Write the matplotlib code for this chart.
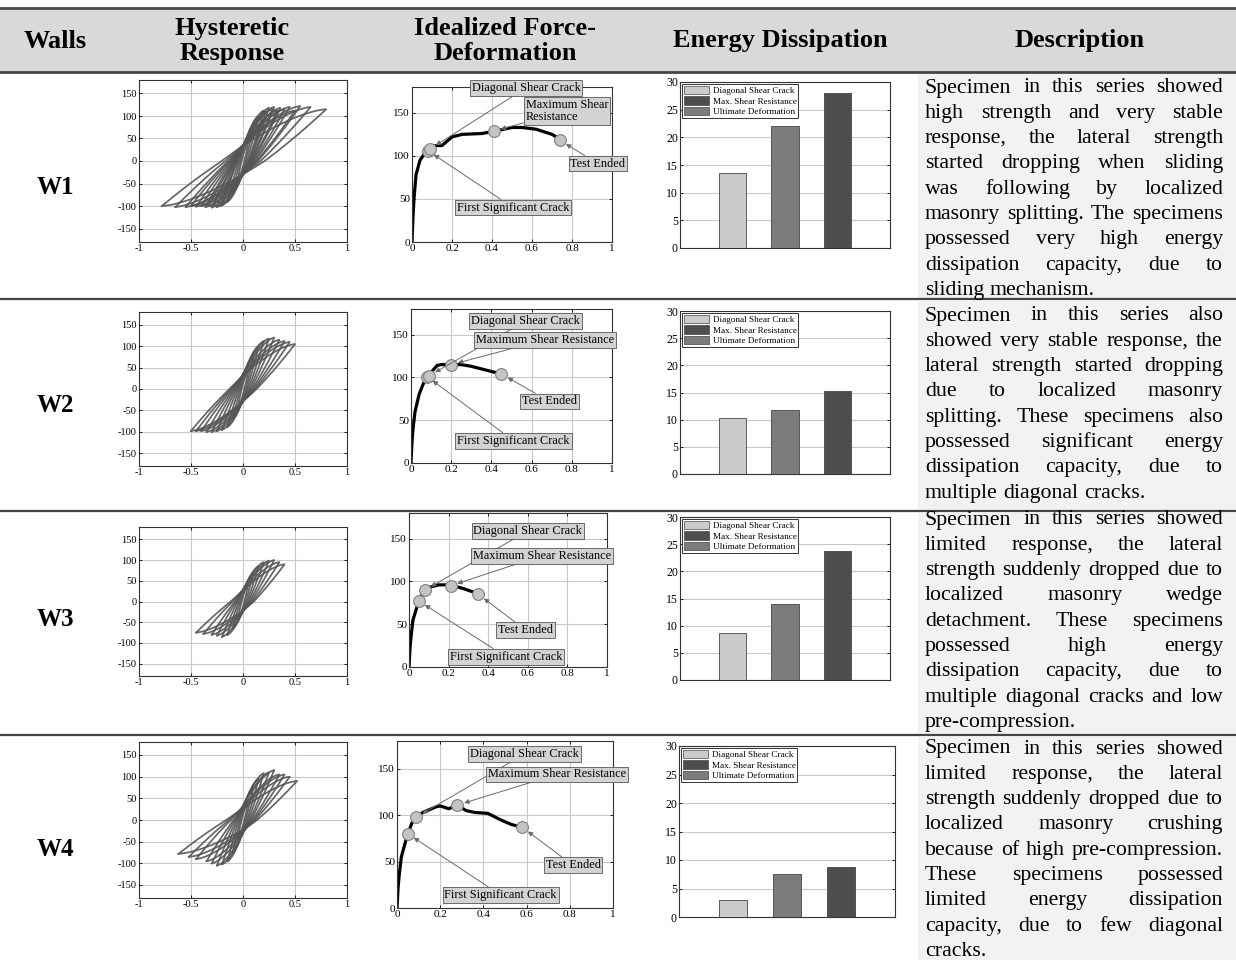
import matplotlib
matplotlib.use("Agg")
import matplotlib.pyplot as plt
from matplotlib.patches import Rectangle
import numpy as np

plt.rcParams["font.family"] = ["Liberation Serif", "DejaVu Serif"]
plt.rcParams["axes.unicode_minus"] = False

W, H = 1236, 960

HEADERS = ["Walls", "Hysteretic\nResponse", "Idealized Force-\nDeformation", "Energy Dissipation", "Description"]
HEADER_X = [55, 232, 505, 780, 1080]
WALLS = ["W1", "W2", "W3", "W4"]
ROW_EDGES = [72, 299, 511, 735, 960]
WALL_Y = [188, 405, 620, 850]

# hysteresis cycle peaks: positive disp/force, negative disp/force
HYST_DP = [
    [0.05, 0.1, 0.15, 0.2, 0.22, 0.25, 0.28, 0.3, 0.33, 0.36, 0.4, 0.45, 0.5, 0.55, 0.65, 0.8],
    [0.05, 0.1, 0.15, 0.2, 0.25, 0.3, 0.35, 0.4, 0.45, 0.5],
    [0.05, 0.1, 0.15, 0.2, 0.25, 0.3, 0.35, 0.4],
    [0.05, 0.1, 0.15, 0.2, 0.25, 0.3, 0.35, 0.4, 0.45, 0.52],
]
HYST_FP = [
    [40, 75, 100, 112, 110, 118, 115, 120, 112, 118, 115, 120, 112, 122, 120, 115],
    [40, 75, 100, 112, 118, 120, 115, 112, 110, 105],
    [40, 70, 85, 95, 98, 100, 95, 90],
    [40, 75, 95, 108, 110, 115, 105, 105, 100, 90],
]
HYST_DN = [
    [0.05, 0.1, 0.15, 0.2, 0.22, 0.25, 0.28, 0.3, 0.33, 0.36, 0.4, 0.45, 0.5, 0.55, 0.65, 0.78],
    [0.05, 0.1, 0.15, 0.2, 0.25, 0.3, 0.35, 0.4, 0.45, 0.5],
    [0.05, 0.1, 0.15, 0.2, 0.25, 0.3, 0.38, 0.45],
    [0.05, 0.1, 0.15, 0.2, 0.25, 0.3, 0.35, 0.45, 0.52, 0.62],
]
HYST_FN = [
    [-40, -70, -90, -98, -100, -102, -100, -103, -100, -102, -100, -101, -100, -102, -102, -100],
    [-40, -70, -88, -95, -98, -100, -100, -98, -98, -98],
    [-40, -65, -80, -85, -82, -80, -78, -75],
    [-40, -75, -95, -102, -105, -100, -95, -90, -85, -78],
]

# idealized force-deformation curves
IDEAL_X = [
    [0, 0.005, 0.01, 0.02, 0.04, 0.07, 0.1, 0.12, 0.15, 0.2, 0.25, 0.35, 0.42, 0.5, 0.55, 0.62, 0.7, 0.75],
    [0, 0.005, 0.01, 0.02, 0.04, 0.06, 0.08, 0.1, 0.13, 0.15, 0.2, 0.25, 0.3, 0.35, 0.4, 0.45],
    [0, 0.005, 0.01, 0.02, 0.04, 0.05, 0.07, 0.08, 0.1, 0.15, 0.2, 0.22, 0.27, 0.32, 0.35],
    [0, 0.005, 0.01, 0.02, 0.04, 0.05, 0.07, 0.09, 0.12, 0.18, 0.2, 0.24, 0.28, 0.32, 0.36, 0.42, 0.48, 0.53, 0.58],
]
IDEAL_Y = [
    [0, 30, 50, 78, 95, 105, 110, 112, 112, 122, 125, 126, 129, 133, 133, 131, 125, 118],
    [0, 25, 40, 60, 80, 92, 100, 106, 114, 115, 115, 115, 113, 110, 107, 104],
    [0, 22, 35, 55, 70, 77, 87, 90, 93, 96, 96, 95, 92, 88, 85],
    [0, 22, 35, 55, 72, 80, 92, 98, 103, 109, 110, 107, 111, 105, 103, 102, 95, 90, 87],
]
EVENT_X = [[0.08, 0.09, 0.41, 0.74], [0.08, 0.09, 0.2, 0.45], [0.05, 0.08, 0.21, 0.35], [0.05, 0.09, 0.28, 0.58]]
EVENT_Y = [[106, 108, 129, 118], [101, 102, 115, 104], [77, 90, 95, 85], [80, 98, 111, 87]]
LABEL_X = [[0.505, 0.57, 0.775, 0.93], [0.51, 0.57, 0.667, 0.69], [0.49, 0.60, 0.67, 0.59], [0.48, 0.59, 0.74, 0.815]]
LABEL_Y = [[40, 179, 152, 91], [26, 166, 144, 72], [12, 159, 130, 43], [14, 166, 144, 46]]
LABEL_TEXT = ["First Significant Crack", "Diagonal Shear Crack", "Maximum Shear\nResistance", "Test Ended"]

# energy dissipation bars
ENERGY_LABELS = ["Diagonal Shear Crack", "Max. Shear Resistance", "Ultimate Deformation"]
ENERGY = [[13.6, 22.0, 28.0], [10.3, 11.8, 15.2], [8.6, 13.9, 23.8], [2.9, 7.6, 8.8]]
BAR_COLORS = ["#cbcbcb", "#7c7c7c", "#4e4e4e"]
LEGEND_COLORS = ["#cbcbcb", "#4e4e4e", "#7c7c7c"]

DESCRIPTIONS = [
    ["Specimen in this series showed", "high strength and very stable", "response, the lateral strength",
     "started dropping when sliding", "was following by localized", "masonry splitting. The specimens",
     "possessed very high energy", "dissipation capacity, due to", "sliding mechanism."],
    ["Specimen in this series also", "showed very stable response, the", "lateral strength started dropping",
     "due to localized masonry", "splitting. These specimens also", "possessed significant energy",
     "dissipation capacity, due to", "multiple diagonal cracks."],
    ["Specimen in this series showed", "limited response, the lateral", "strength suddenly dropped due to",
     "localized masonry wedge", "detachment. These specimens", "possessed high energy",
     "dissipation capacity, due to", "multiple diagonal cracks and low", "pre-compression."],
    ["Specimen in this series showed", "limited response, the lateral", "strength suddenly dropped due to",
     "localized masonry crushing", "because of high pre-compression.", "These specimens possessed",
     "limited energy dissipation", "capacity, due to few diagonal", "cracks."],
]
DESC_Y0 = [88, 316, 520, 749]

# axes boxes in pixels: left, top, right, bottom
HYST_BOX = [(139, 80, 347, 242), (139, 312, 347, 466), (139, 527, 347, 676), (139, 742, 347, 898)]
IDEAL_BOX = [(412, 87, 612, 242), (411, 309, 612, 463), (409, 513, 607, 667), (397, 741, 613, 908)]
ENERGY_BOX = [(680, 82, 890, 248), (680, 311, 890, 474), (680, 517, 890, 680), (679, 746, 895, 917)]

fig = plt.figure(figsize=(W / 100, H / 100), dpi=100)
bg = fig.add_axes([0, 0, 1, 1], zorder=-5)
bg.set_xlim(0, W)
bg.set_ylim(H, 0)
bg.axis("off")


def px_axes(box):
    x0, y0, x1, y1 = box
    return fig.add_axes([x0 / W, 1 - y1 / H, (x1 - x0) / W, (y1 - y0) / H])


def style_axes(ax, size=7.5):
    ax.grid(True, color="#c8c8c8", linewidth=0.8)
    ax.set_axisbelow(True)
    ax.tick_params(direction="in", top=True, right=True, labelsize=size, length=2.5, pad=1.5, width=0.6)
    for spine in ax.spines.values():
        spine.set_linewidth(0.8)
        spine.set_color("#333333")


def pinched_loop(dp, fp, dn, fn, p=1.5, n=120):
    # upper branch runs from the negative peak to the positive one, lower branch back
    u = np.linspace(-1, 1, n)
    up = -1 + 2 * (1 - ((1 - u) / 2) ** p)
    uu = np.concatenate([u, u[::-1]])
    ff = np.concatenate([up, -up])
    x = np.where(uu >= 0, dp * uu, dn * uu)
    f = np.where(ff >= 0, fp * ff, -fn * ff)
    return x, f


# table frame
bg.add_patch(Rectangle((0, 8), W, 64, facecolor="#d9d9d9", edgecolor="none"))
for row in range(4):
    bg.add_patch(Rectangle((918, ROW_EDGES[row] + 2), W - 918, ROW_EDGES[row + 1] - ROW_EDGES[row] - 2,
                           facecolor="#f2f2f2", edgecolor="none"))
bg.plot([0, W], [8, 8], color="#4a4a4a", linewidth=2)
for y in ROW_EDGES[:-1]:
    bg.plot([0, W], [y, y], color="#444444", linewidth=2 if y == 72 else 1.6)
for x, label in zip(HEADER_X, HEADERS):
    bg.text(x, 41, label, ha="center", va="center", fontsize=19, fontweight="bold", linespacing=1.12)
for y, label in zip(WALL_Y, WALLS):
    bg.text(55, y, label, ha="center", va="center", fontsize=18, fontweight="bold")

for row in range(4):
    # hysteretic response
    ax = px_axes(HYST_BOX[row])
    for dp, fp, dn, fn in zip(HYST_DP[row], HYST_FP[row], HYST_DN[row], HYST_FN[row]):
        x, f = pinched_loop(dp, fp, dn, fn)
        ax.plot(x, f, color="#555555", linewidth=1.25, alpha=0.9)
    ax.set_xlim(-1, 1)
    ax.set_ylim(-180, 180)
    ax.set_xticks([-1, -0.5, 0, 0.5, 1])
    ax.set_xticklabels(["-1", "-0.5", "0", "0.5", "1"])
    ax.set_yticks([-150, -100, -50, 0, 50, 100, 150])
    style_axes(ax)

    # idealized force-deformation
    ax = px_axes(IDEAL_BOX[row])
    ax.plot(IDEAL_X[row], IDEAL_Y[row], color="black", linewidth=2.3, solid_capstyle="round")
    for k in range(4):
        ax.plot(EVENT_X[row][k], EVENT_Y[row][k], "o", markersize=8.5, markerfacecolor="#c4c4c4",
                markeredgecolor="#808080", markeredgewidth=0.8, zorder=4)
        text = LABEL_TEXT[k] if row == 0 else LABEL_TEXT[k].replace("\n", " ")
        ax.annotate(text, xy=(EVENT_X[row][k], EVENT_Y[row][k]), xytext=(LABEL_X[row][k], LABEL_Y[row][k]),
                    ha="center", va="center", multialignment="left", fontsize=8.8, annotation_clip=False,
                    zorder=6, linespacing=1.0,
                    bbox=dict(boxstyle="square,pad=0.15", facecolor="#d3d3d3", edgecolor="#555555", linewidth=0.6),
                    arrowprops=dict(arrowstyle="-|>", color="#6a6a6a", linewidth=0.7, mutation_scale=7,
                                    shrinkA=0, shrinkB=5))
    ax.set_xlim(0, 1)
    ax.set_ylim(0, 180)
    ax.set_xticks([0, 0.2, 0.4, 0.6, 0.8, 1])
    ax.set_xticklabels(["0", "0.2", "0.4", "0.6", "0.8", "1"])
    ax.set_yticks([0, 50, 100, 150])
    style_axes(ax, 8)

    # energy dissipation
    ax = px_axes(ENERGY_BOX[row])
    ax.bar([1, 2, 3], ENERGY[row], width=0.52, color=BAR_COLORS, edgecolor="#444444", linewidth=0.6, zorder=3)
    handles = [Rectangle((0, 0), 1, 1, facecolor=c, edgecolor="#444444", linewidth=0.5) for c in LEGEND_COLORS]
    leg = ax.legend(handles, ENERGY_LABELS, loc="upper left", fontsize=6.6, frameon=True, fancybox=False,
                    borderpad=0.2, labelspacing=0.12, handlelength=2.7, handleheight=1.0,
                    handletextpad=0.4, borderaxespad=0.25, framealpha=1)
    leg.get_frame().set_edgecolor("#333333")
    leg.get_frame().set_linewidth(0.7)
    ax.set_xlim(0, 4)
    ax.set_ylim(0, 30)
    ax.set_xticks([])
    ax.set_yticks([0, 5, 10, 15, 20, 25, 30])
    ax.grid(True, axis="y", color="#c8c8c8", linewidth=0.8)
    ax.set_axisbelow(True)
    ax.tick_params(direction="in", right=True, labelsize=8.5, length=2.5, pad=1.5, width=0.6)
    for spine in ax.spines.values():
        spine.set_linewidth(0.8)
        spine.set_color("#333333")

# justified description text
renderer = fig.canvas.get_renderer()
x_left, x_right = 925, 1223
probe = bg.text(0, 0, "masonry splitting. The specimens", fontsize=10)
natural = probe.get_window_extent(renderer).width
probe.remove()
desc_size = 10 * (x_right - x_left) / natural * 0.985
p1 = bg.text(0, 0, "a a", fontsize=desc_size)
p2 = bg.text(0, 0, "aa", fontsize=desc_size)
space = p1.get_window_extent(renderer).width - p2.get_window_extent(renderer).width
p1.remove()
p2.remove()

for row, lines in enumerate(DESCRIPTIONS):
    for i, line in enumerate(lines):
        y = DESC_Y0[row] + i * 25.3
        words = line.split(" ")
        texts = [bg.text(0, y, w, fontsize=desc_size, va="center", ha="left") for w in words]
        widths = [t.get_window_extent(renderer).width for t in texts]
        if i == len(lines) - 1 or len(words) == 1:
            gap = space
        else:
            gap = (x_right - x_left - sum(widths)) / (len(words) - 1)
        x = x_left
        for t, wd in zip(texts, widths):
            t.set_x(x)
            x += wd + gap

fig.savefig("out.png", dpi=100)
